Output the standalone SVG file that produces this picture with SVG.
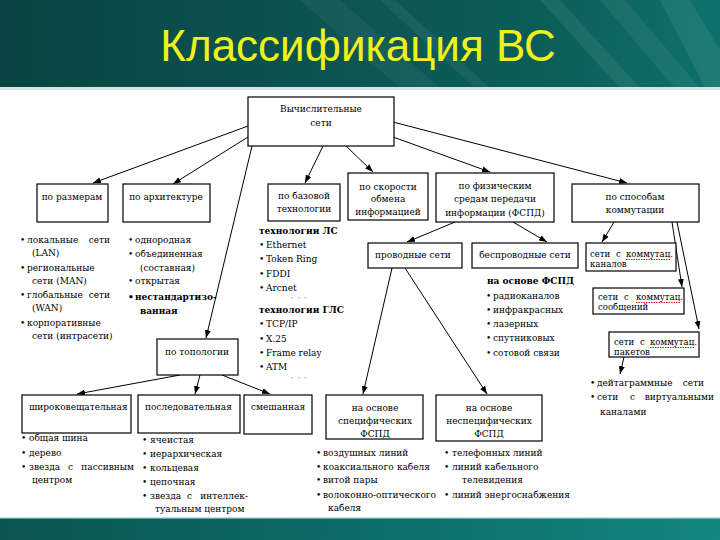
<svg xmlns="http://www.w3.org/2000/svg" width="720" height="540" viewBox="0 0 720 540">
<defs>
<linearGradient id="hdr" x1="0" y1="0" x2="1" y2="0">
<stop offset="0" stop-color="#0a4341"/>
<stop offset="0.45" stop-color="#0c5451"/>
<stop offset="0.75" stop-color="#0b5d59"/>
<stop offset="1" stop-color="#10716c"/>
</linearGradient>
<linearGradient id="ftr" x1="0" y1="0" x2="1" y2="0">
<stop offset="0" stop-color="#0a5552"/>
<stop offset="0.5" stop-color="#0d6c68"/>
<stop offset="1" stop-color="#138680"/>
</linearGradient>
<marker id="ah" markerUnits="userSpaceOnUse" markerWidth="8" markerHeight="6" refX="8" refY="3" orient="auto">
<path d="M0,0 L8,3 L0,6 z" fill="#000"/>
</marker>
<style>
.bx{fill:#fff;stroke:#000;stroke-width:1.2}
.t{font-family:"DejaVu Serif Condensed","DejaVu Serif","Liberation Serif",serif;font-size:10px;fill:#000}
.s{font-size:9.5px}
.c{text-anchor:middle}
.e{text-anchor:end}
.b{font-weight:bold}
.dots{font-family:"DejaVu Serif",serif;font-size:10px;fill:#888;text-anchor:middle}
.ln{stroke:#000;stroke-width:1;fill:none;marker-end:url(#ah)}
.sq{stroke:#d02020;stroke-width:1;stroke-dasharray:1.5,1}
.title{font-family:"Liberation Sans",Arial,sans-serif;font-size:44px;fill:#f0f01e;text-anchor:middle}
</style>
</defs>

<!-- background -->
<rect x="0" y="0" width="720" height="540" fill="#fff"/>
<rect x="0" y="0" width="720" height="88" fill="url(#hdr)"/>
<g fill="#ffffff">
<polygon points="300,0 340,0 440,88 400,88" opacity="0.05"/>
<polygon points="380,0 395,0 490,88 475,88" opacity="0.06"/>
<polygon points="540,0 560,0 640,88 620,88" opacity="0.07"/>
<polygon points="600,0 625,0 700,88 675,88" opacity="0.06"/>
<polygon points="660,0 690,0 720,50 720,88 705,88" opacity="0.07"/>
</g>
<rect x="0" y="87" width="720" height="3" fill="#cfe8e7"/>
<rect x="0" y="518" width="720" height="22" fill="url(#ftr)"/>
<rect x="0" y="517" width="720" height="1.5" fill="#bfe3e0"/>

<text class="title" x="358" y="61">Классификация ВС</text>

<!-- connectors -->
<g id="connectors">
<path class="ln" d="M248,126 L93,183"/>
<path class="ln" d="M248,137 L173,184"/>
<path class="ln" d="M252,146 L206,338"/>
<path class="ln" d="M323,146 L305,183"/>
<path class="ln" d="M346,146 L373,172"/>
<path class="ln" d="M393,137 L490,172"/>
<path class="ln" d="M393,122 L627,183"/>
<path class="ln" d="M455,222 L407,242"/>
<path class="ln" d="M513,222 L547,242"/>
<path class="ln" d="M614,222 L602,242"/>
<path class="ln" d="M672,222 L682,287"/>
<path class="ln" d="M677,222 L699,329"/>
<path class="ln" d="M624,357 L620,374"/>
<path class="ln" d="M392,268 L363,394"/>
<path class="ln" d="M405,268 L487,394"/>
<path class="ln" d="M180,375 L77,394"/>
<path class="ln" d="M200,375 L195,394"/>
<path class="ln" d="M222,375 L270,394"/>
</g>

<!-- nodes -->
<g id="root">
<rect class="bx" x="248" y="97" width="146" height="49"/>
<text class="t c" x="321" y="112">Вычислительные</text>
<text class="t c" x="321" y="126">сети</text>
</g>

<g id="by-size">
<rect class="bx" x="37" y="184" width="71" height="38"/>
<text class="t c" x="72" y="200">по размерам</text>
</g>

<g id="by-arch">
<rect class="bx" x="123" y="184" width="87" height="38"/>
<text class="t c" x="166" y="200">по архитектуре</text>
</g>

<g id="by-tech">
<rect class="bx" x="268" y="184" width="72" height="37"/>
<text class="t c" x="304" y="199">по базовой</text>
<text class="t c" x="304" y="212">технологии</text>
</g>

<g id="by-speed">
<rect class="bx" x="348" y="173" width="80" height="47"/>
<text class="t c" x="388" y="190">по скорости</text>
<text class="t c" x="388" y="202">обмена</text>
<text class="t c" x="388" y="215">информацией</text>
</g>

<g id="by-media">
<rect class="bx" x="436" y="173" width="118" height="49"/>
<text class="t c" x="495" y="189">по физическим</text>
<text class="t c" x="495" y="202">средам передачи</text>
<text class="t c" x="495" y="216">информации (ФСПД)</text>
</g>

<g id="by-switching">
<rect class="bx" x="572" y="184" width="127" height="38"/>
<text class="t c" x="635" y="200">по способам</text>
<text class="t c" x="635" y="213">коммутации</text>
</g>

<g id="wired">
<rect class="bx" x="368" y="243" width="94" height="25"/>
<text class="t" x="375" y="258">проводные сети</text>
</g>

<g id="wireless">
<rect class="bx" x="472" y="243" width="106" height="25"/>
<text class="t c" x="525" y="258">беспроводные сети</text>
</g>

<g id="circuit">
<rect class="bx" x="586" y="243" width="90" height="28"/>
<text class="t s" x="590" y="257">сети</text>
<text class="t s" x="616" y="257">с</text>
<text class="t s" x="626" y="257">коммутац.</text>
<line class="sq" x1="626" y1="259.5" x2="670" y2="259.5"/>
<text class="t s" x="590" y="267">каналов</text>
</g>

<g id="message">
<rect class="bx" x="593" y="288" width="91" height="26"/>
<text class="t s" x="598" y="300">сети</text>
<text class="t s" x="624" y="300">с</text>
<text class="t s" x="636" y="300">коммутац.</text>
<line class="sq" x1="636" y1="302.5" x2="680" y2="302.5"/>
<text class="t s" x="598" y="310">сообщений</text>
</g>

<g id="packet">
<rect class="bx" x="609" y="332" width="90" height="25"/>
<text class="t s" x="614" y="345">сети</text>
<text class="t s" x="640" y="345">с</text>
<text class="t s" x="650" y="345">коммутац.</text>
<line class="sq" x1="650" y1="347.5" x2="694" y2="347.5"/>
<text class="t s" x="614" y="355">пакетов</text>
</g>

<g id="by-topology">
<rect class="bx" x="157" y="339" width="81" height="36"/>
<text class="t c" x="197" y="355">по топологии</text>
</g>

<g id="broadcast">
<rect class="bx" x="22" y="395" width="109" height="38"/>
<text class="t" x="29" y="410">широковещательная</text>
</g>

<g id="sequential">
<rect class="bx" x="138" y="395" width="102" height="38"/>
<text class="t" x="145" y="410">последовательная</text>
</g>

<g id="mixed">
<rect class="bx" x="244" y="395" width="68" height="39"/>
<text class="t c" x="278" y="410">смешанная</text>
</g>

<g id="specific">
<rect class="bx" x="326" y="395" width="97" height="44"/>
<text class="t c" x="375" y="411">на основе</text>
<text class="t c" x="375" y="424">специфических</text>
<text class="t c" x="375" y="437">ФСПД</text>
</g>

<g id="nonspecific">
<rect class="bx" x="436" y="395" width="106" height="46"/>
<text class="t c" x="489" y="411">на основе</text>
<text class="t c" x="489" y="424">неспецифических</text>
<text class="t c" x="489" y="437">ФСПД</text>
</g>

<!-- lists -->
<g id="list-size">
<text class="t" x="20" y="243">•</text><text class="t" x="27" y="243">локальные</text><text class="t e" x="110" y="243">сети</text>
<text class="t" x="32" y="256">(LAN)</text>
<text class="t" x="20" y="271">•</text><text class="t" x="27" y="271">региональные</text>
<text class="t" x="32" y="284">сети (MAN)</text>
<text class="t" x="20" y="298">•</text><text class="t" x="27" y="298">глобальные</text><text class="t e" x="110" y="298">сети</text>
<text class="t" x="32" y="311">(WAN)</text>
<text class="t" x="20" y="326">•</text><text class="t" x="27" y="326">корпоративные</text>
<text class="t" x="32" y="339">сети (интрасети)</text>
</g>

<g id="list-arch">
<text class="t" x="128" y="243">•</text><text class="t" x="135" y="243">однородная</text>
<text class="t" x="128" y="257">•</text><text class="t" x="135" y="257">объединенная</text>
<text class="t" x="140" y="271">(составная)</text>
<text class="t" x="128" y="284">•</text><text class="t" x="135" y="284">открытая</text>
<text class="t b" x="128" y="300">•</text><text class="t b" x="135" y="300">нестандартизо-</text>
<text class="t b" x="140" y="314">ванная</text>
</g>

<g id="list-tech">
<text class="t b" x="259" y="234">технологии ЛС</text>
<text class="t" x="259" y="248">•</text><text class="t" x="266" y="248">Ethernet</text>
<text class="t" x="259" y="262">•</text><text class="t" x="266" y="262">Token Ring</text>
<text class="t" x="259" y="277">•</text><text class="t" x="266" y="277">FDDI</text>
<text class="t" x="259" y="291">•</text><text class="t" x="266" y="291">Arcnet</text>
<text class="dots" x="299" y="301">· · ·</text>
<text class="t b" x="259" y="313">технологии ГЛС</text>
<text class="t" x="259" y="327">•</text><text class="t" x="266" y="327">TCP/IP</text>
<text class="t" x="259" y="342">•</text><text class="t" x="266" y="342">X.25</text>
<text class="t" x="259" y="356">•</text><text class="t" x="266" y="356">Frame relay</text>
<text class="t" x="259" y="370">•</text><text class="t" x="266" y="370">ATM</text>
<text class="dots" x="299" y="381">· · ·</text>
</g>

<g id="list-wireless">
<text class="t b" x="487" y="284">на основе ФСПД</text>
<text class="t" x="486" y="299">•</text><text class="t" x="493" y="299">радиоканалов</text>
<text class="t" x="486" y="313">•</text><text class="t" x="493" y="313">инфракрасных</text>
<text class="t" x="486" y="327">•</text><text class="t" x="493" y="327">лазерных</text>
<text class="t" x="486" y="341">•</text><text class="t" x="493" y="341">спутниковых</text>
<text class="t" x="486" y="356">•</text><text class="t" x="493" y="356">сотовой связи</text>
</g>

<g id="list-packet">
<text class="t" x="590" y="386">•</text><text class="t" x="597" y="386">дейтаграммные</text><text class="t e" x="704" y="386">сети</text>
<text class="t" x="590" y="400">•</text><text class="t" x="597" y="400">сети</text><text class="t" x="630" y="400">с</text><text class="t e" x="714" y="400">виртуальными</text>
<text class="t" x="600" y="415">каналами</text>
</g>

<g id="list-broadcast">
<text class="t" x="21" y="441">•</text><text class="t" x="29" y="441">общая шина</text>
<text class="t" x="21" y="456">•</text><text class="t" x="29" y="456">дерево</text>
<text class="t" x="21" y="470">•</text><text class="t" x="29" y="470">звезда</text><text class="t" x="68" y="470">с</text><text class="t e" x="134" y="470">пассивным</text>
<text class="t" x="32" y="483">центром</text>
</g>

<g id="list-sequential">
<text class="t" x="142" y="443">•</text><text class="t" x="150" y="443">ячеистая</text>
<text class="t" x="142" y="457">•</text><text class="t" x="150" y="457">иерархическая</text>
<text class="t" x="142" y="471">•</text><text class="t" x="150" y="471">кольцевая</text>
<text class="t" x="142" y="485">•</text><text class="t" x="150" y="485">цепочная</text>
<text class="t" x="142" y="499">•</text><text class="t" x="150" y="499">звезда</text><text class="t" x="187" y="499">с</text><text class="t e" x="248" y="499">интеллек-</text>
<text class="t" x="155" y="512">туальным центром</text>
</g>

<g id="list-specific">
<text class="t" x="316" y="456">•</text><text class="t" x="323" y="456">воздушных линий</text>
<text class="t" x="316" y="470">•</text><text class="t" x="323" y="470">коаксиального</text><text class="t e" x="430" y="470">кабеля</text>
<text class="t" x="316" y="483">•</text><text class="t" x="323" y="483">витой пары</text>
<text class="t" x="316" y="498">•</text><text class="t" x="323" y="498">волоконно-оптического</text>
<text class="t" x="328" y="511">кабеля</text>
</g>

<g id="list-nonspecific">
<text class="t" x="444" y="456">•</text><text class="t" x="452" y="456">телефонных линий</text>
<text class="t" x="444" y="470">•</text><text class="t" x="452" y="470">линий кабельного</text>
<text class="t" x="462" y="483">телевидения</text>
<text class="t" x="444" y="498">•</text><text class="t" x="452" y="498">линий энергоснабжения</text>
</g>
</svg>
